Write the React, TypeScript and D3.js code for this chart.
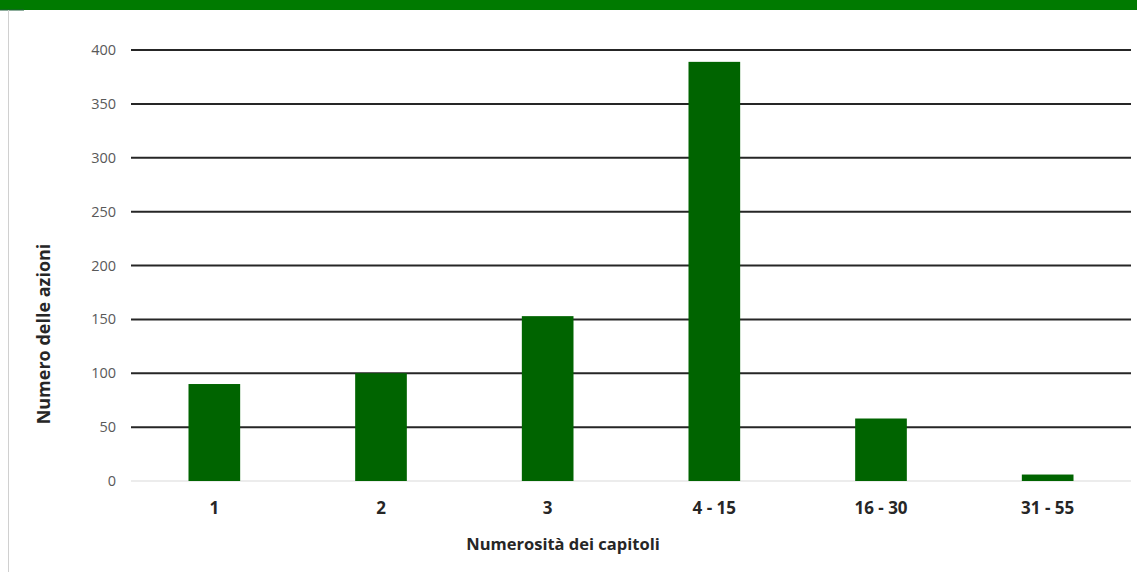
import React from "react";
import * as d3 from "d3";

const categories = ["1", "2", "3", "4 - 15", "16 - 30", "31 - 55"];
const values = [90, 100, 153, 389, 58, 6];
const yTicks = [0, 50, 100, 150, 200, 250, 300, 350, 400];
const xTitle = "Numerosità dei capitoli";
const yTitle = "Numero delle azioni";

const W = 1137;
const H = 572;
const left = 131;
const right = 1131;
const top = 50;
const bottom = 481;
const font = "Open Sans, Noto Sans, sans-serif";

export default function App() {
  const x = d3.scaleBand<string>().domain(categories).range([left, right]).paddingInner(0.69).paddingOuter(0.345);
  const y = d3.scaleLinear().domain([0, 400]).range([bottom, top]);
  return (
    <svg width={W} height={H} style={{ position: "absolute", left: 0, top: 0, background: "#fff" }}>
      <rect x={0} y={0} width={W} height={10} fill="#007A00" />
      <line x1={0} x2={24} y1={10} y2={10} stroke="#1f5f3a" strokeWidth={1} />
      <line x1={8.5} x2={8.5} y1={10} y2={H} stroke="#d0d0d0" strokeWidth={1} />
      {yTicks.map((t) => (
        <g key={t}>
          <line x1={left} x2={right} y1={y(t)} y2={y(t)} stroke={t === 0 ? "#d9d9d9" : "#262626"} strokeWidth={t === 0 ? 1 : 2} />
          <text x={116} y={y(t)} dy="0.35em" textAnchor="end" fontFamily={font} fontSize={14.5} fill="#595959">{t}</text>
        </g>
      ))}
      {categories.map((c, i) => (
        <g key={c}>
          <rect x={x(c)} y={y(values[i])} width={x.bandwidth()} height={y(0) - y(values[i])} fill="#006400" />
          <text x={(x(c) as number) + x.bandwidth() / 2} y={508} dy="0.35em" textAnchor="middle" fontFamily={font} fontSize={17} fontWeight="bold" fill="#262626">{c}</text>
        </g>
      ))}
      <text x={563} y={544} dy="0.35em" textAnchor="middle" fontFamily={font} fontSize={16.5} fontWeight="bold" fill="#262626">{xTitle}</text>
      <text transform={`translate(44,334) rotate(-90)`} dy="0.35em" textAnchor="middle" fontFamily={font} fontSize={18} fontWeight="bold" fill="#262626">{yTitle}</text>
    </svg>
  );
}
